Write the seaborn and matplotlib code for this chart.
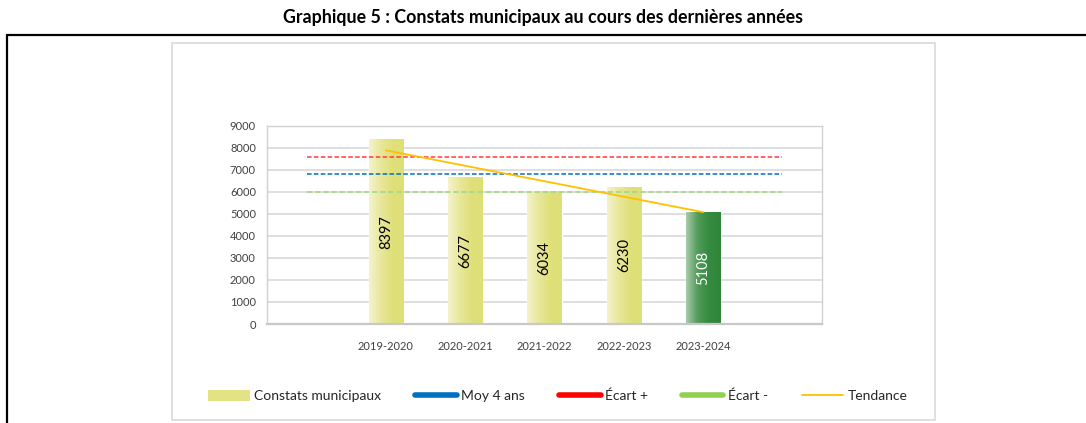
import numpy as np
import pandas as pd
import seaborn as sns
import matplotlib.pyplot as plt
from matplotlib.lines import Line2D
from matplotlib.patches import Patch, Rectangle
from matplotlib.colors import LinearSegmentedColormap

# Data
saisons = ['2019-2020', '2020-2021', '2021-2022', '2022-2023', '2023-2024']
constats = [8397, 6677, 6034, 6230, 5108]
moy_4_ans = 6835
ecart_plus = 7610
ecart_moins = 6020
tendance = [7894, 5084]  # start / end of the trend line

df = pd.DataFrame({'saison': saisons, 'constats': constats})

sns.set_theme(style='white')
plt.rcParams['font.family'] = ['Lato', 'DejaVu Sans']

fig = plt.figure(figsize=(10.86, 4.23), dpi=100)
W, H = 1086, 423
ax = fig.add_axes([267 / W, 1 - 324 / H, 555 / W, 198 / H])

sns.barplot(data=df, x='saison', y='constats', ax=ax, width=0.43,
            color='#e1e17c', saturation=1, zorder=2)

# gradient fill on the bars
yellow = LinearSegmentedColormap.from_list('y', ['#f4f3cc', '#e8e79a', '#e0e07a', '#dfdf78'])
green = LinearSegmentedColormap.from_list('g', ['#a8cbab', '#529c5a', '#348a3f', '#2f863b'])
grad = np.linspace(0, 1, 64).reshape(1, -1)
for i, p in enumerate(ax.patches):
    x0, y0 = p.get_x(), p.get_y()
    w, h = p.get_width(), p.get_height()
    cmap = green if i == len(ax.patches) - 1 else yellow
    im = ax.imshow(grad, cmap=cmap, extent=[x0, x0 + w, y0, y0 + h],
                   aspect='auto', zorder=2.5, interpolation='bicubic')
    im.set_clip_path(p)
    ax.text(i, constats[i] / 2, str(constats[i]), rotation=90, ha='center', va='center',
            fontsize=10.5, color='white' if i == len(ax.patches) - 1 else 'black', zorder=4)

ax.set_xlim(-1.5, 5.5)
ax.set_ylim(0, 9000)
ax.set_yticks(range(0, 9001, 1000))

ax.hlines(ecart_plus, -1, 5, colors='#ff3b3b', linestyles=(0, (3, 1.5)), lw=1.1, zorder=3)
ax.hlines(moy_4_ans, -1, 5, colors='#0070c0', linestyles=(0, (3, 1.5)), lw=1.1, zorder=3)
ax.hlines(ecart_moins, -1, 5, colors='#a9d88a', linestyles=(0, (3, 1.5)), lw=1.3, zorder=3)
ax.plot([0, len(saisons) - 1], tendance, color='#ffc000', lw=1.3, zorder=3.5)

ax.grid(axis='y', color='#d9d9d9', lw=1.2, zorder=0)
ax.set_axisbelow(True)
for s in ax.spines.values():
    s.set_color('#d0d0d0')
    s.set_linewidth(1.0)
ax.spines['bottom'].set_color('#c8c8c8')
ax.spines['bottom'].set_linewidth(1.6)
ax.tick_params(axis='both', length=0, labelsize=8, colors='#404040')
ax.tick_params(axis='x', pad=12)
ax.tick_params(axis='y', pad=8)
ax.set_xlabel('')
ax.set_ylabel('')

fig.text(0.5, 1 - 17 / H, 'Graphique 5 : Constats municipaux au cours des dernières années',
         ha='center', va='center', fontsize=12.8, fontweight='bold', color='black')

# outer black frame and inner chart box
fig.add_artist(Line2D([7 / W, 1], [1 - 35 / H, 1 - 35 / H], color='black', lw=1.6))
fig.add_artist(Line2D([7 / W, 7 / W], [0, 1 - 35 / H], color='black', lw=1.6))
fig.add_artist(Rectangle((172 / W, 1 - 420 / H), (935 - 172) / W, (420 - 43) / H,
                         transform=fig.transFigure, fill=False, edgecolor='#d9d9d9', lw=1.2))

handles = [
    Patch(facecolor='#e3e386', edgecolor='none'),
    Line2D([], [], color='#0070c0', lw=4, solid_capstyle='round'),
    Line2D([], [], color='#ff0000', lw=4, solid_capstyle='round'),
    Line2D([], [], color='#92d050', lw=4, solid_capstyle='round'),
    Line2D([], [], color='#ffc000', lw=1.3),
]
labels = ['Constats municipaux', 'Moy 4 ans', 'Écart +', 'Écart -', 'Tendance']
fig.legend(handles, labels, loc='center', bbox_to_anchor=(558 / W, 1 - 396 / H), ncol=5,
           frameon=False, fontsize=10, handlelength=3.0, handletextpad=0.3,
           columnspacing=2.45, labelcolor='#262626', handleheight=0.9)

fig.savefig('out.png', dpi=100)
